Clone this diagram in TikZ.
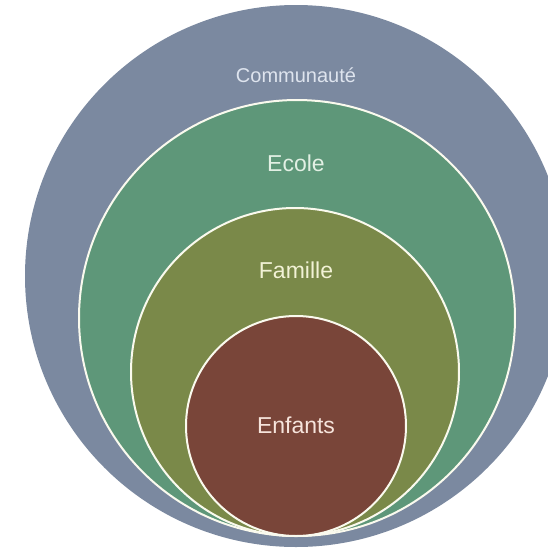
\documentclass[tikz,border=0pt]{standalone}
\usepackage{fontspec}
\setmainfont{Liberation Sans}

\definecolor{commFill}{RGB}{123,137,160}
\definecolor{ecoleFill}{RGB}{94,151,121}
\definecolor{familleFill}{RGB}{122,137,73}
\definecolor{enfantsFill}{RGB}{121,69,57}
\definecolor{ringLine}{RGB}{250,250,238}
\definecolor{commText}{RGB}{222,228,238}
\definecolor{ecoleText}{RGB}{226,240,228}
\definecolor{familleText}{RGB}{242,242,214}
\definecolor{enfantsText}{RGB}{246,228,220}

\tikzset{
  disc/.style={circle, inner sep=0pt, outer sep=0pt},
  ring/.style={disc, draw=ringLine, line width=2pt},
  lbl/.style={anchor=base, inner sep=0pt, font=\fontsize{23}{27}\selectfont}
}

\begin{document}
\begin{tikzpicture}[x=1pt,y=-1pt]

  \useasboundingbox (0,0) rectangle (548,550);
  \clip (0,0) rectangle (548,550);

  %% circles, all touching near the bottom
  \node[disc, fill=commFill, minimum size=542pt] (communaute) at (296,276) {};
  \node[ring, fill=ecoleFill, minimum size=436pt] (ecole) at (297,318) {};
  \node[ring, fill=familleFill, minimum size=328pt] (famille) at (295,372) {};
  \node[ring, fill=enfantsFill, minimum size=220pt] (enfants) at (296,426) {};

  %% labels
  \node[lbl, font=\fontsize{20}{24}\selectfont, text=commText] (commLbl) at (296,82) {Communauté};
  \node[lbl, text=ecoleText] (ecoleLbl) at (296,171) {Ecole};
  \node[lbl, text=familleText] (familleLbl) at (296,278) {Famille};
  \node[lbl, text=enfantsText] (enfantsLbl) at (296,433) {Enfants};

\end{tikzpicture}
\end{document}
